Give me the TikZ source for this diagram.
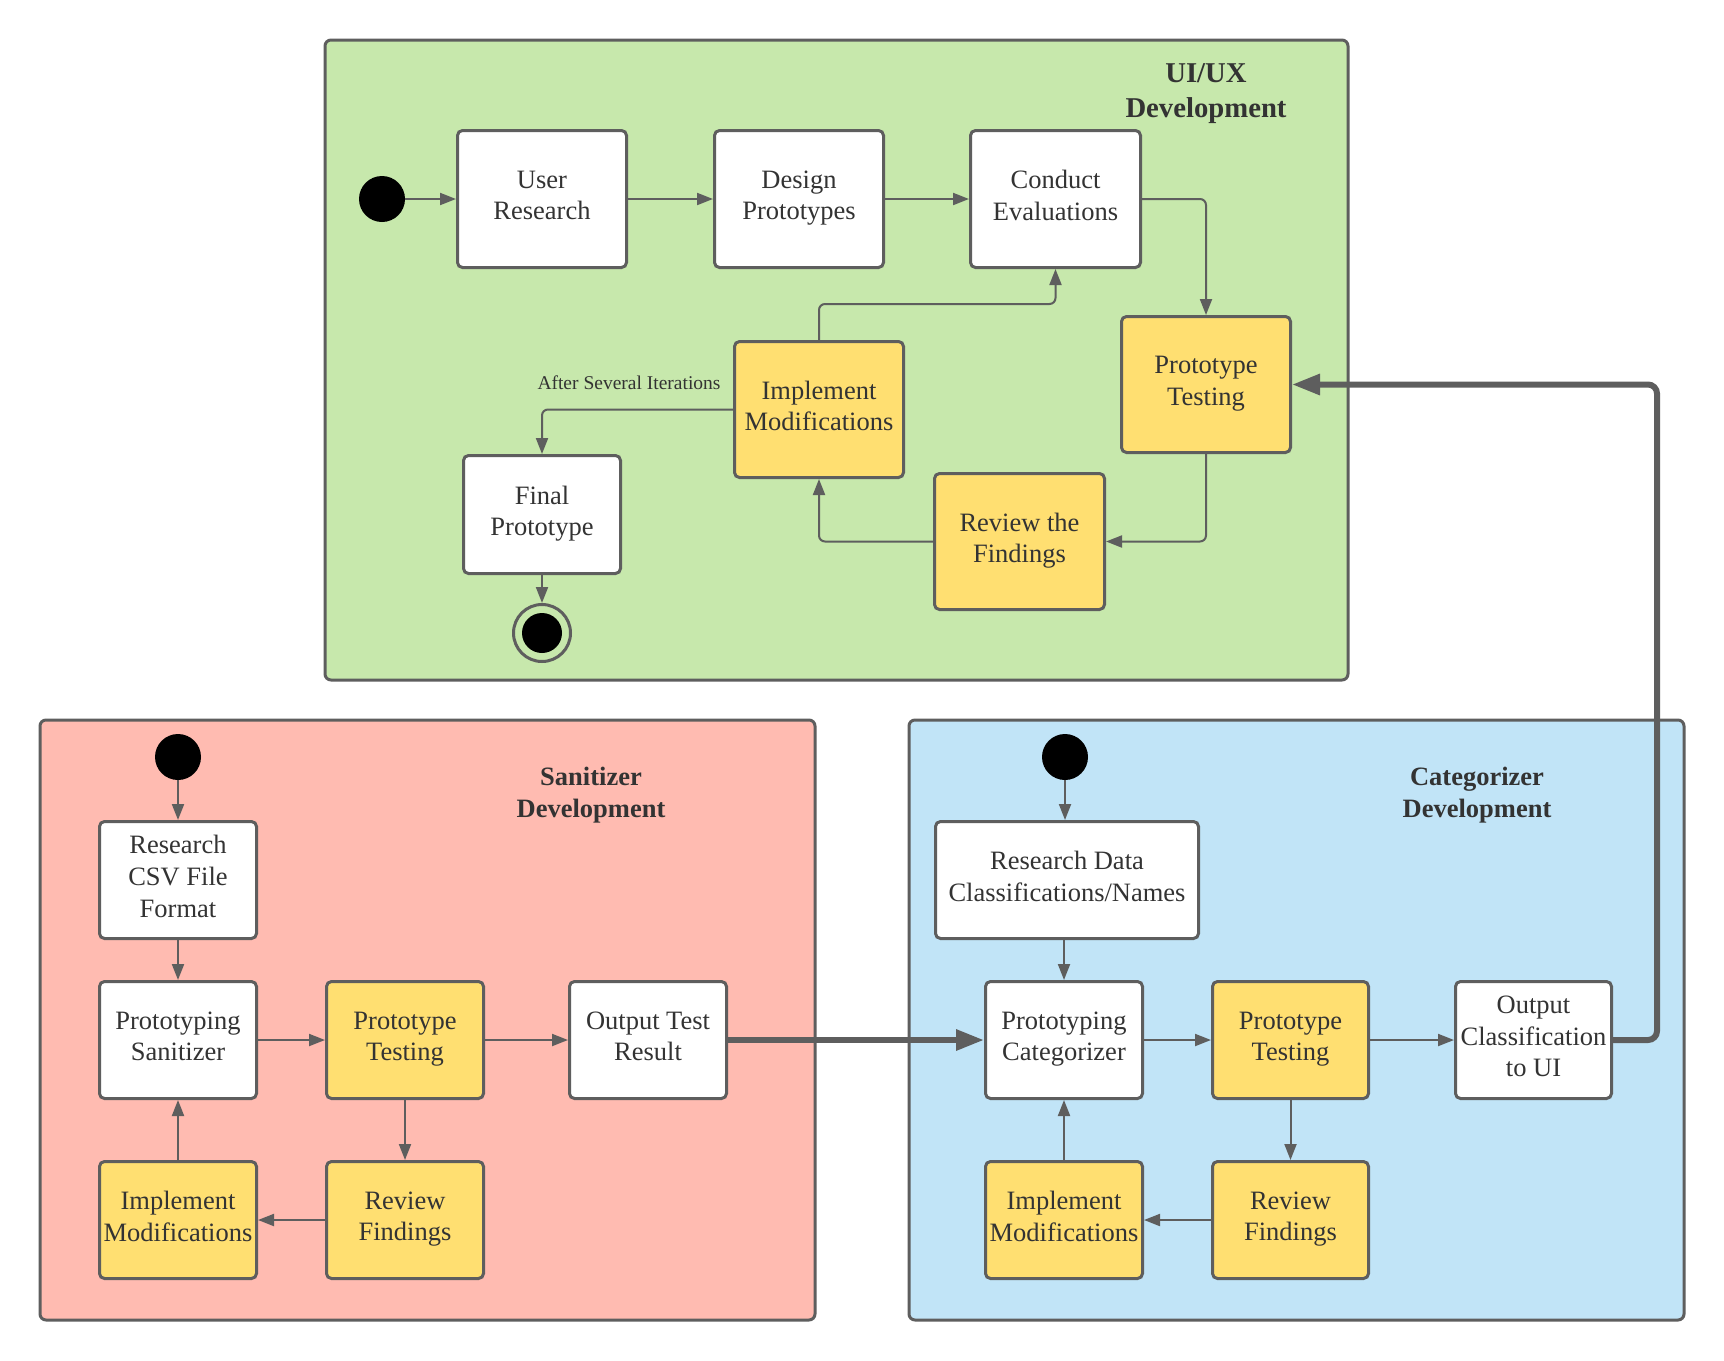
\documentclass[tikz,border=0pt]{standalone}
\usepackage{fontspec}
\setmainfont{Liberation Serif}
\usetikzlibrary{arrows.meta}
\definecolor{greenbg}{HTML}{C7E8AC}
\definecolor{redbg}{HTML}{FFBBB1}
\definecolor{bluebg}{HTML}{C1E4F7}
\definecolor{yelbg}{HTML}{FFDF71}
\definecolor{linec}{HTML}{5E5E5E}
\definecolor{textc}{HTML}{333333}
\tikzset{
  frame/.style={draw=linec, line width=3pt, rounded corners=6pt},
  box/.style={draw=linec, line width=3pt, rounded corners=5pt, fill=white, align=center,
    text=textc, inner sep=0pt, text depth=7.5pt, font=\fontsize{26.5}{31.8}\selectfont},
  ybox/.style={box, fill=yelbg},
  conn/.style={draw=linec, line width=2pt, rounded corners=6pt, -{Triangle[length=16pt,width=12pt]}},
  bigconn/.style={draw=linec, line width=6pt, rounded corners=9pt, -{Triangle[length=28pt,width=20pt]}},
  startdot/.style={circle, fill=black, minimum size=46pt, inner sep=0pt},
  ttl/.style={align=center, text=textc, font=\bfseries\fontsize{26.5}{32}\selectfont},
}
\begin{document}
\begin{tikzpicture}[x=1pt, y=-1pt]
\useasboundingbox (0,0) rectangle (1724,1360);
\fill[white] (0,0) rectangle (1724,1360);
% frames
\draw[frame, fill=greenbg] (325,40) rectangle (1348,680);
\draw[frame, fill=redbg] (40,720) rectangle (815,1320);
\draw[frame, fill=bluebg] (909,720) rectangle (1684,1320);
% titles
\node[ttl, font=\bfseries\fontsize{28.7}{35}\selectfont] (t1) at (1206,94) {UI/UX\\Development};
\node[ttl] (t2) at (591,795) {Sanitizer\\Development};
\node[ttl] (t3) at (1477,795) {Categorizer\\Development};
% UI/UX
\node[startdot] (s1) at (382,199) {};
\node[box, minimum width=169pt, minimum height=137pt] (ur) at (542,199) {User\\Research};
\node[box, minimum width=169pt, minimum height=137pt] (dp) at (799,199) {Design\\Prototypes};
\node[box, minimum width=170pt, minimum height=137pt] (ce) at (1055.5,199) {Conduct\\Evaluations};
\node[ybox, minimum width=169pt, minimum height=136pt] (pt) at (1206,384.5) {Prototype\\Testing};
\node[ybox, minimum width=170pt, minimum height=136pt] (rf) at (1019.5,541.5) {Review the\\Findings};
\node[ybox, minimum width=169pt, minimum height=136pt] (im) at (819,409.5) {Implement\\Modifications};
\node[box, minimum width=157pt, minimum height=118pt] (fp) at (542,514.5) {Final\\Prototype};
\node[circle, draw=linec, line width=3pt, fill=greenbg, minimum size=57pt, inner sep=0pt] (e1) at (542,633) {};
\node[circle, fill=black, minimum size=40pt, inner sep=0pt] (e1in) at (542,633) {};
\draw[conn] (s1) -- (ur);
\draw[conn] (ur) -- (dp);
\draw[conn] (dp) -- (ce);
\draw[conn] (ce.east) -| (pt.north);
\draw[conn] (pt.south) |- (rf.east);
\draw[conn] (rf.west) -| (im.south);
\draw[conn] (im.north) -- ++(0,-36) -| (ce.south);
\draw[conn] (im.west) -| (fp.north);
\node[text=textc, font=\fontsize{19.5}{22}\selectfont, inner sep=0pt] (lbl) at (629,383) {After Several Iterations};
\draw[conn] (fp.south) -- (e1.north);
% Sanitizer
\node[startdot] (s2) at (178,757) {};
\node[box, minimum width=157pt, minimum height=117pt] (rcsv) at (178,880) {Research\\CSV File\\Format};
\node[box, minimum width=157pt, minimum height=117pt] (ps) at (178,1040) {Prototyping\\Sanitizer};
\node[ybox, minimum width=157pt, minimum height=117pt] (pts) at (405,1040) {Prototype\\Testing};
\node[box, minimum width=157pt, minimum height=117pt] (ots) at (648,1040) {Output Test\\Result};
\node[ybox, minimum width=157pt, minimum height=117pt] (rfs) at (405,1220) {Review\\Findings};
\node[ybox, minimum width=157pt, minimum height=117pt] (ims) at (178,1220) {Implement\\Modifications};
\draw[conn] (s2) -- (rcsv);
\draw[conn] (rcsv) -- (ps);
\draw[conn] (ps) -- (pts);
\draw[conn] (pts) -- (ots);
\draw[conn] (pts) -- (rfs);
\draw[conn] (rfs) -- (ims);
\draw[conn] (ims) -- (ps);
% Categorizer
\node[startdot] (s3) at (1065,757) {};
\node[box, minimum width=263pt, minimum height=117pt] (rd) at (1067,880) {Research Data\\Classifications/Names};
\node[box, minimum width=157pt, minimum height=117pt] (pc) at (1064,1040) {Prototyping\\Categorizer};
\node[ybox, minimum width=156pt, minimum height=117pt] (ptc) at (1290.5,1040) {Prototype\\Testing};
\node[box, minimum width=156pt, minimum height=117pt] (oc) at (1533.5,1040) {Output\\Classification\\to UI};
\node[ybox, minimum width=156pt, minimum height=117pt] (rfc) at (1290.5,1220) {Review\\Findings};
\node[ybox, minimum width=157pt, minimum height=117pt] (imc) at (1064,1220) {Implement\\Modifications};
\draw[conn] (s3.south) -- (s3.south |- rd.north);
\draw[conn] (pc.north |- rd.south) -- (pc.north);
\draw[conn] (pc) -- (ptc);
\draw[conn] (ptc) -- (oc);
\draw[conn] (ptc) -- (rfc);
\draw[conn] (rfc) -- (imc);
\draw[conn] (imc) -- (pc);
% thick connectors
\draw[bigconn] (ots.east) -- (pc.west);
\draw[bigconn] (oc.east) -- ++(44,0) |- (pt.east);
\end{tikzpicture}
\end{document}
